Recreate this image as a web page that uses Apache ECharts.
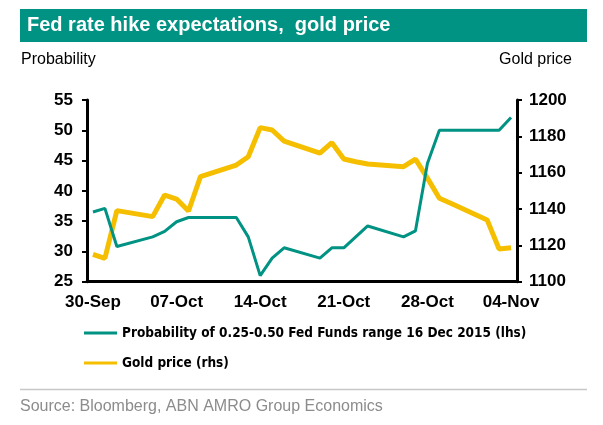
<!DOCTYPE html>
<html>
<head>
<meta charset="utf-8">
<script src="https://cdn.jsdelivr.net/npm/echarts@6/dist/echarts.min.js"></script>
<style>html,body{margin:0;padding:0;background:#fff;}#c{width:603px;height:425px;}</style>
</head>
<body>
<div id="c"></div>
<script>
var days = ['30-Sep','01-Oct','02-Oct','03-Oct','04-Oct','05-Oct','06-Oct','07-Oct','08-Oct','09-Oct','10-Oct','11-Oct','12-Oct','13-Oct','14-Oct','15-Oct','16-Oct','17-Oct','18-Oct','19-Oct','20-Oct','21-Oct','22-Oct','23-Oct','24-Oct','25-Oct','26-Oct','27-Oct','28-Oct','29-Oct','30-Oct','31-Oct','01-Nov','02-Nov','03-Nov','04-Nov'];
var probability = [36.5,37.1,30.8,null,null,32.4,33.3,34.9,35.6,35.6,null,null,35.6,32.4,26.0,28.9,30.6,null,null,28.9,30.6,30.6,32.4,34.2,null,null,32.4,33.4,44.5,50.0,50.0,null,null,50.0,50.0,52.1];
var gold = [1115.1,1112.9,1139.1,null,null,1135.8,1147.7,1145.5,1138.9,1157.8,null,null,1164.2,1168.8,1184.8,1183.5,1177.4,null,null,1170.7,1176.5,1167.5,1166.0,1164.8,null,null,1163.3,1167.5,1157.0,1145.9,1143.0,null,null,1134.0,1118.0,1118.7];
var leftTicks = {min:25, max:55, interval:5};
var rightTicks = {min:1100, max:1200, interval:20};
var probName = 'Probability of 0.25-0.50 Fed Funds range 16 Dec 2015 (lhs)';
var goldName = 'Gold price (rhs)';

var TEAL = '#009282', GOLD = '#f5bf00';
var F = 'Arial, "Liberation Sans", sans-serif';
var NARROW = '"Liberation Sans Narrow", "Arial Narrow", "DejaVu Sans Condensed", Arial, sans-serif';
var chart = echarts.init(document.getElementById('c'));
var legendText = {color:'#000', fontSize:13.5, fontWeight:'bold', fontFamily:NARROW};
chart.setOption({
  animation:false,
  backgroundColor:'#fff',
  grid:{left:87, right:86, top:100, bottom:143.3, containLabel:false},
  legend:[
    {data:[probName], left:84, top:326, padding:0, orient:'horizontal', icon:'rect', itemWidth:33, itemHeight:3, textStyle:legendText, selectedMode:false},
    {data:[goldName], left:84, top:356, padding:0, orient:'horizontal', icon:'rect', itemWidth:33, itemHeight:3, textStyle:legendText, selectedMode:false}
  ],
  xAxis:{type:'category', data:days, boundaryGap:true,
    axisLine:{lineStyle:{color:'#000', width:3}},
    axisTick:{interval:6, length:5, lineStyle:{color:'#000', width:2}},
    axisLabel:{interval:6, margin:12, color:'#000', fontSize:17, fontWeight:'bold', fontFamily:F},
    splitLine:{show:false}},
  yAxis:[
    {type:'value', position:'left', min:leftTicks.min, max:leftTicks.max, interval:leftTicks.interval,
     axisLine:{show:true, lineStyle:{color:'#000', width:3}},
     axisTick:{show:true, length:5, lineStyle:{color:'#000', width:2}},
     axisLabel:{margin:14, color:'#000', fontSize:17, fontWeight:'bold', fontFamily:F},
     splitLine:{show:false}},
    {type:'value', position:'right', min:rightTicks.min, max:rightTicks.max, interval:rightTicks.interval,
     axisLine:{show:true, lineStyle:{color:'#000', width:3}},
     axisTick:{show:true, length:5, lineStyle:{color:'#000', width:2}},
     axisLabel:{margin:12, color:'#000', fontSize:17, fontWeight:'bold', fontFamily:F, formatter:function(v){return String(v);}},
     splitLine:{show:false}}
  ],
  series:[
    {name:goldName, type:'line', yAxisIndex:1, data:gold, connectNulls:true, showSymbol:false, symbol:'none',
     itemStyle:{color:GOLD}, lineStyle:{color:GOLD, width:5}, z:2},
    {name:probName, type:'line', yAxisIndex:0, data:probability, connectNulls:true, showSymbol:false, symbol:'none',
     itemStyle:{color:TEAL}, lineStyle:{color:TEAL, width:3}, z:3}
  ],
  graphic:[
    {type:'rect', shape:{x:20, y:9, width:567, height:33}, style:{fill:TEAL}, silent:true},
    {type:'text', x:27, y:25.5, style:{text:'Fed rate hike expectations,  gold price', fill:'#fff', font:'bold 20px '+F, textVerticalAlign:'middle'}},
    {type:'text', x:21, y:60, style:{text:'Probability', fill:'#000', font:'16px '+F, textVerticalAlign:'middle'}},
    {type:'text', x:572, y:60, style:{text:'Gold price', fill:'#000', font:'16px '+F, textAlign:'right', textVerticalAlign:'middle'}},
    {type:'line', shape:{x1:20, y1:389.5, x2:587, y2:389.5}, style:{stroke:'#c8c8c8', lineWidth:1.5}},
    {type:'text', x:20, y:407, style:{text:'Source: Bloomberg, ABN AMRO Group Economics', fill:'#8c8c8c', font:'16px '+F, textVerticalAlign:'middle'}}
  ]
});
</script>
</body>
</html>
